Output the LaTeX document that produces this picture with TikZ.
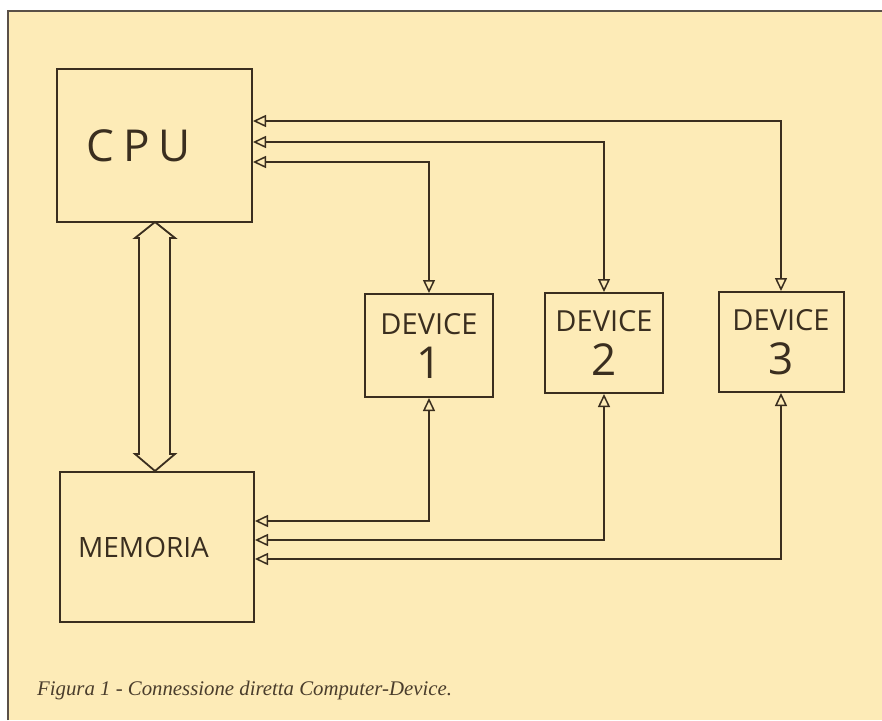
\documentclass[tikz,border=0pt]{standalone}
\usepackage{fontspec}
\setsansfont{Open Sans}
\newfontfamily\capfont{Liberation Serif}
\usetikzlibrary{arrows.meta}
\definecolor{paper}{HTML}{FDEBB7}
\definecolor{ink}{HTML}{3A2E1F}
\definecolor{capink}{HTML}{4A3D2C}
\definecolor{framec}{HTML}{5A5048}
\tikzset{
  box/.style={draw=ink, line width=2pt, inner sep=0pt, font=\sffamily, text=ink, align=center},
  devbox/.style={box, font=\sffamily\fontsize{29}{44}\selectfont},
  arr/.style={draw=ink, line width=1.5pt, {Triangle[open,length=13pt,width=12pt]}-{Triangle[open,length=13pt,width=12pt]}},
  bigarrow/.style={draw=ink, line width=1.8pt, line join=miter, fill=paper}
}
\begin{document}
\begin{tikzpicture}[x=1pt,y=-1pt]
\useasboundingbox (0,0) rectangle (882,720);
\fill[white] (0,0) rectangle (882,720);
\fill[paper] (8,11) rectangle (882,720);
\draw[framec, line width=1.5pt] (8,720) -- (8,11) -- (882,11);

\node[box, minimum width=195pt, minimum height=153pt] (cpu) at (154.5,145.5)
  {\fontsize{44}{44}\selectfont\raisebox{-4pt}{C\hspace{9pt}P\hspace{9pt}U}\hspace*{32pt}};
\node[box, minimum width=194pt, minimum height=150pt] (mem) at (157,547)
  {\fontsize{28}{28}\selectfont\raisebox{-2pt}{MEMORIA}\hspace*{27pt}};

\node[devbox, minimum width=128pt, minimum height=103pt] (d1) at (429,345.5)
  {DEVICE\\{\fontsize{44}{44}\selectfont 1}};
\node[devbox, minimum width=118pt, minimum height=100pt] (d2) at (604,343)
  {DEVICE\\{\fontsize{44}{44}\selectfont 2}};
\node[devbox, minimum width=125pt, minimum height=100pt] (d3) at (781,342)
  {DEVICE\\{\fontsize{44}{44}\selectfont 3}};

\coordinate (ya) at (0,121);
\coordinate (yb) at (0,142);
\coordinate (yc) at (0,162);
\coordinate (yd) at (0,521);
\coordinate (ye) at (0,540);
\coordinate (yf) at (0,559);

\draw[arr] (cpu.east |- ya) -| (d3.north);
\draw[arr] (cpu.east |- yb) -| (d2.north);
\draw[arr] (cpu.east |- yc) -| (d1.north);
\draw[arr] (mem.east |- yd) -| (d1.south);
\draw[arr] (mem.east |- ye) -| (d2.south);
\draw[arr] (mem.east |- yf) -| (d3.south);

\draw[bigarrow] (155,222) -- (175,238) -- (170,238) -- (170,454) -- (175,454)
  -- (155,471) -- (135,454) -- (139,454) -- (139,238) -- (135,238) -- cycle;

\node[anchor=base west, inner sep=0pt, text=capink, font=\capfont\itshape\fontsize{20.8}{20.8}\selectfont] (cap) at (37,695)
  {Figura 1 - Connessione diretta Computer-Device.};
\end{tikzpicture}
\end{document}
